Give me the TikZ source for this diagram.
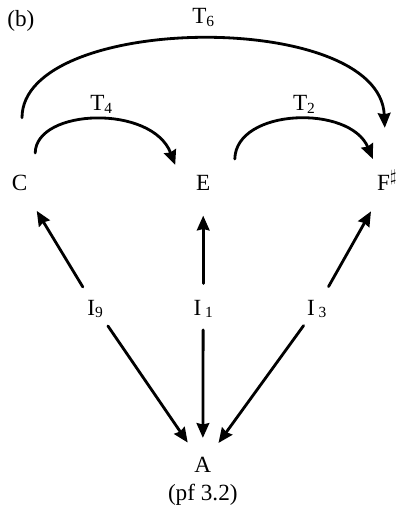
\documentclass[tikz,border=0pt]{standalone}
\usepackage{fontspec}
\setmainfont{Liberation Serif}
\usetikzlibrary{arrows.meta}
\newcommand{\lowidx}[1]{\raisebox{-2pt}{\fontsize{11}{11}\selectfont #1}}
\begin{document}
\begin{tikzpicture}[line cap=round,line join=round,
    font=\fontsize{16.5}{19}\selectfont,
    pc/.style={inner sep=0pt, text height=11pt, text depth=0pt},
    tarr/.style={line width=2pt, -{Stealth[length=10.5pt,width=9pt,inset=1pt]}},
    uparr/.style={tarr, shorten <=17pt, shorten >=23.5pt},
    dnarr/.style={tarr, shorten <=16pt, shorten >=19pt}]
  \useasboundingbox (0,0) rectangle (10.075,12.825);
  % pitch classes
  \node[pc] (C)  at (0.49,8.26) {C};
  \node[pc] (E)  at (5.08,8.26) {E};
  \node[pc] (Fs) at (9.68,8.26) {F$^{\sharp}$};
  \node[pc] (A)  at (5.07,1.21) {A};
  \node[pc] (pf) at (5.07,0.51) {(pf 3.2)};
  \node[pc] (b)  at (0.52,12.36) {(b)};
  % inversions
  \node[pc] (I9) at (2.38,5.14) {I\lowidx{9}};
  \node[pc] (I1) at (5.08,5.14) {I\,\lowidx{1}};
  \node[pc] (I3) at (7.92,5.14) {I\,\lowidx{3}};
  \foreach \lbl/\pc in {I9/C, I1/E, I3/Fs}
    \draw[uparr] (\lbl.center) -- (\pc.center);
  \foreach \lbl in {I9, I1, I3}
    \draw[dnarr] (\lbl.center) -- (A.center);
  % transpositions
  \draw[tarr] ([shift={(0.39,0.74)}]C.center) .. controls +(0.02,1.12) and +(-0.575,1.52) .. ([shift={(-0.70,0.44)}]E.center);
  \draw[tarr] ([shift={(0.79,0.59)}]E.center) .. controls +(0.03,1.27) and +(-0.575,1.37) .. ([shift={(-0.36,0.59)}]Fs.center);
  \draw[tarr] ([shift={(0.06,1.62)}]C.center) .. controls +(0,2.62) and +(-0.125,2.975) .. ([shift={(-0.06,1.37)}]Fs.center);
  \node[pc] (T4) at (2.53,10.25) {T\lowidx{4}};
  \node[pc] (T2) at (7.60,10.25) {T\lowidx{2}};
  \node[pc] (T6) at (5.08,12.42) {T\lowidx{6}};
\end{tikzpicture}
\end{document}
